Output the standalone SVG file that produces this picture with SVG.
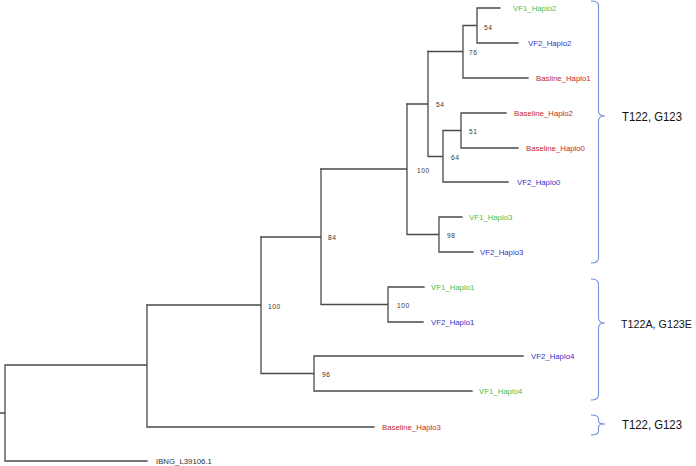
<svg xmlns="http://www.w3.org/2000/svg" width="696" height="466" viewBox="0 0 696 466">
<style>
.e{stroke:#4a4a4a;stroke-width:1.3;fill:none;stroke-linecap:square}
.t{font-family:"Liberation Sans",Arial,sans-serif;font-size:7.8px}
.g{fill:#4cc04a}.b{fill:#3434c8}.r{fill:#c22a2a}.k{fill:#333}
.bs{font-family:"Liberation Sans",Arial,sans-serif;font-size:6.6px;fill:#333;letter-spacing:0.6px}
.br{stroke:#6f92de;stroke-width:1.1;fill:none}
.lab{font-family:"Liberation Sans",Arial,sans-serif;font-size:13px;fill:#111}
</style>
<rect width="696" height="466" fill="#fff"/>
<g id="connectors">
<path class="e" d="M0,413H5M5,365V461M5,461H147M5,365H147M147,305V427M147,427H374"/>
<path class="e" d="M147,305H261M261,237V373.5M261,373.5H314M314,356V391M314,356H523M314,391H472"/>
<path class="e" d="M261,237H321M321,169V304.5M321,304.5H388M388,287V322M388,287H424M388,322H423"/>
<path class="e" d="M321,169H407M407,104V234.5M407,234.5H439M439,217V252M439,217H462M439,252H473"/>
<path class="e" d="M407,104H428M428,51.5V156.5M428,156.5H443M443,130.5V182M443,182H508M443,130.5H461M461,113V148M461,113H506M461,148H518"/>
<path class="e" d="M428,51.5H463M463,25.5V78M463,78H528M463,25.5H477M477,8V43M477,8H500M477,43H518"/>
</g>
<g id="leaf-VF1_Haplo2"><text class="t g" x="513" y="10.8">VF1_Haplo2</text></g>
<g id="leaf-VF2_Haplo2"><text class="t b" x="528" y="45.8">VF2_Haplo2</text></g>
<g id="leaf-Basline_Haplo1"><text class="t r" x="536" y="80.8">Basline_Haplo1</text></g>
<g id="leaf-Baseline_Haplo2"><text class="t r" x="514" y="115.8">Baseline_Haplo2</text></g>
<g id="leaf-Baseline_Haplo0"><text class="t r" x="526" y="150.8">Baseline_Haplo0</text></g>
<g id="leaf-VF2_Haplo0"><text class="t b" x="517" y="184.8">VF2_Haplo0</text></g>
<g id="leaf-VF1_Haplo3"><text class="t g" x="469" y="219.8">VF1_Haplo3</text></g>
<g id="leaf-VF2_Haplo3"><text class="t b" x="480" y="254.8">VF2_Haplo3</text></g>
<g id="leaf-VF1_Haplo1"><text class="t g" x="431" y="289.8">VF1_Haplo1</text></g>
<g id="leaf-VF2_Haplo1"><text class="t b" x="431" y="324.8">VF2_Haplo1</text></g>
<g id="leaf-VF2_Haplo4"><text class="t b" x="531" y="358.8">VF2_Haplo4</text></g>
<g id="leaf-VF1_Haplo4"><text class="t g" x="479" y="393.8">VF1_Haplo4</text></g>
<g id="leaf-Baseline_Haplo3"><text class="t r" x="382" y="429.8">Baseline_Haplo3</text></g>
<g id="leaf-IBNG_L39106.1"><text class="t k" x="156" y="463.8">IBNG_L39106.1</text></g>
<g id="node-a"><text class="bs" x="484" y="29.5">54</text></g>
<g id="node-b"><text class="bs" x="469" y="54.5">76</text></g>
<g id="node-c"><text class="bs" x="436" y="106.5">54</text></g>
<g id="node-d"><text class="bs" x="469" y="133.5">51</text></g>
<g id="node-e"><text class="bs" x="451" y="159.5">64</text></g>
<g id="node-f"><text class="bs" x="417" y="172.5">100</text></g>
<g id="node-g"><text class="bs" x="447" y="237.5">98</text></g>
<g id="node-h"><text class="bs" x="328" y="239.5">84</text></g>
<g id="node-i"><text class="bs" x="397" y="307.5">100</text></g>
<g id="node-j"><text class="bs" x="268" y="308.5">100</text></g>
<g id="node-k"><text class="bs" x="322" y="376.5">96</text></g>
<g id="bracket-1">
<path class="br" d="M591,1Q598.5,1 598.5,6V111Q598.5,116 605,116Q598.5,116 598.5,121V258Q598.5,263 591,263"/>
<text class="lab" x="622" y="120.5" textLength="60" lengthAdjust="spacingAndGlyphs">T122, G123</text>
</g>
<g id="bracket-2">
<path class="br" d="M591,279Q598.5,279 598.5,284V318Q598.5,323 605,323Q598.5,323 598.5,328V395Q598.5,400 591,400"/>
<text class="lab" x="621" y="327.5" style="font-size:11px" textLength="71" lengthAdjust="spacingAndGlyphs">T122A, G123E</text>
</g>
<g id="bracket-3">
<path class="br" d="M591,415Q598.5,415 598.5,419V421Q598.5,424 605,424Q598.5,424 598.5,427V431Q598.5,435 591,435"/>
<text class="lab" x="622" y="428.5" textLength="60" lengthAdjust="spacingAndGlyphs">T122, G123</text>
</g>
</svg>
